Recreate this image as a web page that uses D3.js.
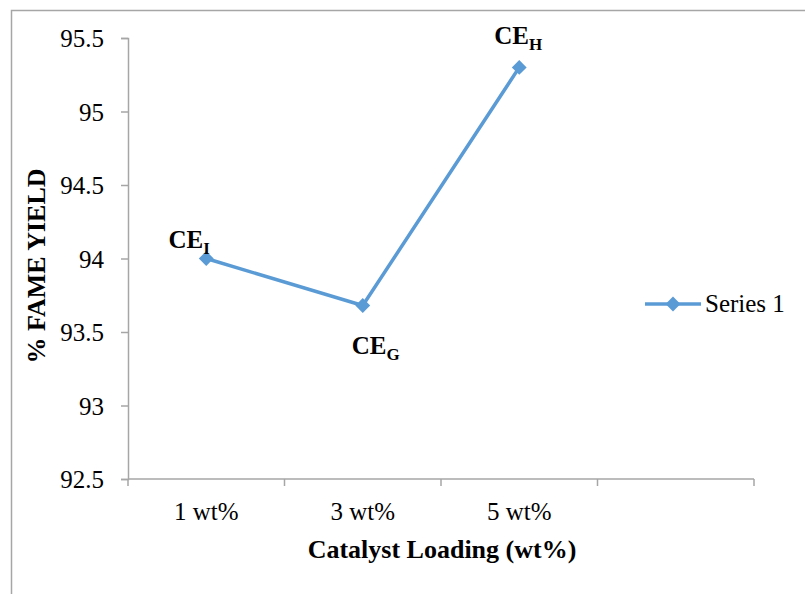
<!DOCTYPE html>
<html>
<head>
<meta charset="utf-8">
<script src="https://cdn.jsdelivr.net/npm/d3@7"></script>
<style>
  html, body { margin: 0; padding: 0; background: #fff; }
  svg { display: block; }
  svg text { font-family: "Times New Roman", Times, "Liberation Serif", "DejaVu Serif", serif !important; fill: #000; }
</style>
</head>
<body>
<svg id="chart" width="805" height="594"></svg>
<script>
// Catalyst loading categories (the fourth slot is left empty on the axis)
const categories = ["1 wt%", "3 wt%", "5 wt%", ""];
const yieldValues = [94.0, 93.68, 95.3];
const pointLabels = [
  { main: "CE", sub: "I" },
  { main: "CE", sub: "G" },
  { main: "CE", sub: "H" }
];
const yTicks = [92.5, 93, 93.5, 94, 94.5, 95, 95.5];
const seriesName = "Series 1";

const svg = d3.select("#chart");
const lineColor = "#5b9bd5";
const axisColor = "#a6a6a6";

// outer chart frame
svg.append("rect")
  .attr("x", 11.5).attr("y", 10.5)
  .attr("width", 900).attr("height", 900)
  .attr("fill", "none").attr("stroke", axisColor).attr("stroke-width", 1.5);

const plot = { left: 128, right: 754, top: 38, bottom: 479 };

const x = d3.scaleBand().domain(categories.map((c, i) => i))
  .range([plot.left, plot.right]).paddingInner(0).paddingOuter(0);
const y = d3.scaleLinear().domain([92.5, 95.5]).range([plot.bottom, plot.top]);

// y axis
const yAxis = svg.append("g").attr("transform", `translate(${plot.left},0)`)
  .call(d3.axisLeft(y).tickValues(yTicks).tickSize(7).tickPadding(17)
    .tickFormat(d => String(d)));
yAxis.attr("font-family", null);
yAxis.select(".domain").attr("stroke", axisColor).attr("stroke-width", 1.5);
yAxis.selectAll(".tick line").attr("stroke", axisColor).attr("stroke-width", 1.5);
yAxis.selectAll(".tick text")
  .style("font-size", "25px")
  .attr("fill", "#000").attr("dy", "0.34em");

// x axis: tick marks on category boundaries, labels at category centres
const xg = svg.append("g");
xg.append("line")
  .attr("x1", plot.left).attr("x2", plot.right)
  .attr("y1", plot.bottom).attr("y2", plot.bottom)
  .attr("stroke", axisColor).attr("stroke-width", 1.5);
const bounds = categories.map((c, i) => x(i)).concat([x(categories.length - 1) + x.bandwidth()]);
xg.selectAll("line.tick").data(bounds).join("line")
  .attr("class", "tick")
  .attr("x1", d => d).attr("x2", d => d)
  .attr("y1", plot.bottom).attr("y2", plot.bottom + 7)
  .attr("stroke", axisColor).attr("stroke-width", 1.5);
xg.selectAll("text").data(categories).join("text")
  .attr("x", (d, i) => x(i) + x.bandwidth() / 2)
  .attr("y", 520)
  .attr("text-anchor", "middle")
  .style("font-size", "25px")
  .text(d => d);

// axis titles
svg.append("text")
  .attr("x", 442).attr("y", 558)
  .attr("text-anchor", "middle")
  .style("font-size", "26px").style("font-weight", "bold")
  .text("Catalyst Loading (wt%)");
svg.append("text")
  .attr("transform", "translate(45,266) rotate(-90)")
  .attr("text-anchor", "middle")
  .style("font-size", "26px").style("font-weight", "bold")
  .text("% FAME YIELD");

// series line and diamond markers
const cx = i => x(i) + x.bandwidth() / 2;
const line = d3.line().x((d, i) => cx(i)).y(d => y(d));
svg.append("path").datum(yieldValues)
  .attr("d", line)
  .attr("fill", "none").attr("stroke", lineColor)
  .attr("stroke-width", 3.5).attr("stroke-linejoin", "round");

const diamond = d3.symbol().type(d3.symbolSquare).size(110);
svg.selectAll("path.marker").data(yieldValues).join("path")
  .attr("class", "marker")
  .attr("d", diamond)
  .attr("transform", (d, i) => `translate(${cx(i)},${y(d)}) rotate(45)`)
  .attr("fill", lineColor);

// point labels with subscripts
const labelOffsets = [[-17, -11], [13, 48], [-1, -23]];
const lbl = svg.selectAll("text.ptlabel").data(yieldValues).join("text")
  .attr("class", "ptlabel")
  .attr("x", (d, i) => cx(i) + labelOffsets[i][0])
  .attr("y", (d, i) => y(d) + labelOffsets[i][1])
  .attr("text-anchor", "middle")
  .style("font-size", "25px").style("font-weight", "bold");
lbl.append("tspan").text((d, i) => pointLabels[i].main);
lbl.append("tspan").attr("dy", 6).style("font-size", "17px")
  .text((d, i) => pointLabels[i].sub);

// legend
const lg = svg.append("g").attr("transform", "translate(645,304)");
lg.append("line").attr("x1", 0).attr("x2", 56).attr("y1", 0).attr("y2", 0)
  .attr("stroke", lineColor).attr("stroke-width", 3.5);
lg.append("path").attr("d", diamond).attr("transform", "translate(28,0) rotate(45)")
  .attr("fill", lineColor);
lg.append("text").attr("x", 60).attr("y", 8)
  .style("font-size", "25px").text(seriesName);
</script>
</body>
</html>
